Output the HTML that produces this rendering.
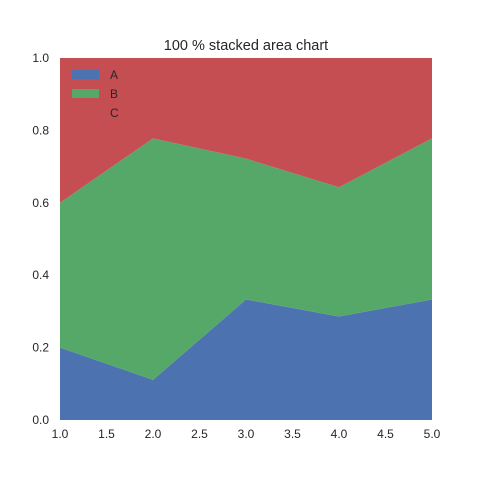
<!DOCTYPE html>
<html><head><meta charset="utf-8"><style>
body{margin:0;background:#fff;}
svg text{font-family:"Liberation Sans",sans-serif;fill:#262626;}
</style></head><body>
<svg width="480" height="480">
<text x="246" y="50" font-size="14.5" text-anchor="middle">100 % stacked area chart</text>
<g id="areas"></g>
<g id="ticks"></g>
<g>
<rect x="72" y="70" width="27" height="9" fill="#4c72b0"/>
<text x="110" y="79" font-size="12">A</text>
<rect x="72" y="89" width="27" height="9" fill="#55a868"/>
<text x="110" y="98" font-size="12">B</text>
<text x="110" y="117" font-size="12">C</text>
</g>
</svg>
<script>
const xs=[1,2,3,4,5];
const seriesA=[0.2,0.111,0.333,0.286,0.333];
const seriesB=[0.4,0.667,0.389,0.357,0.445];
const seriesC=[0.4,0.222,0.278,0.357,0.222];
const xTicks=[1.0,1.5,2.0,2.5,3.0,3.5,4.0,4.5,5.0];
const yTicks=[0.0,0.2,0.4,0.6,0.8,1.0];
const NS="http://www.w3.org/2000/svg";
const X=v=>60+(v-1)*(432-60)/4;
const Y=v=>420-v*(420-58);
const areas=document.getElementById('areas');
const colors=['#4c72b0','#55a868','#c44e52'];
const names=['area-a','area-b','area-c'];
let base=xs.map(()=>0);
[seriesA,seriesB,seriesC].forEach((s,i)=>{
  const top=base.map((b,j)=>b+s[j]);
  let d='M'+xs.map((x,j)=>X(x)+','+Y(top[j])).join('L');
  for(let j=xs.length-1;j>=0;j--) d+='L'+X(xs[j])+','+Y(base[j]);
  d+='Z';
  const p=document.createElementNS(NS,'path');
  p.setAttribute('d',d);p.setAttribute('fill',colors[i]);
  
  
  areas.appendChild(p);
  base=top;
});
const tg=document.getElementById('ticks');
xTicks.forEach(t=>{
  const e=document.createElementNS(NS,'text');
  e.setAttribute('x',X(t));e.setAttribute('y',438);e.setAttribute('font-size','12');e.setAttribute('text-anchor','middle');
  e.textContent=t.toFixed(1);
  
  
  tg.appendChild(e);
});
yTicks.forEach(t=>{
  const e=document.createElementNS(NS,'text');
  e.setAttribute('x',49);e.setAttribute('y',Y(t)+4);e.setAttribute('font-size','12');e.setAttribute('text-anchor','end');
  e.textContent=t.toFixed(1);
  
  
  tg.appendChild(e);
});
</script>
</body></html>
